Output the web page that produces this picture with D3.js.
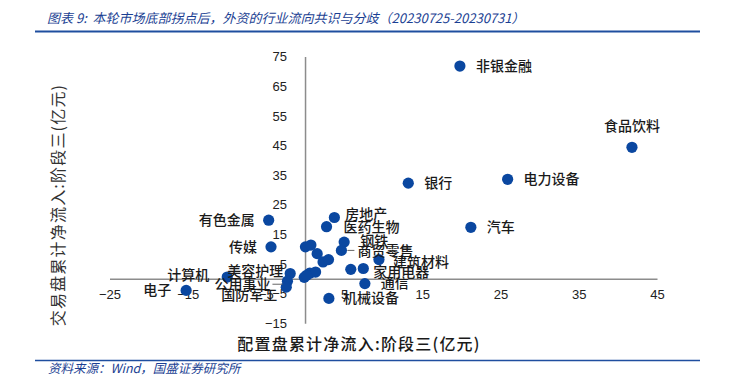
<!DOCTYPE html>
<html>
<head>
<meta charset="utf-8">
<script src="https://cdn.jsdelivr.net/npm/d3@7"></script>
<style>
  html, body { margin: 0; padding: 0; background: #fff; }
  svg { display: block; }
</style>
</head>
<body>
<svg id="chart" width="739" height="380"></svg>
<script>
// ---- Data ----
const industries = ["非银金融","食品饮料","电力设备","银行","汽车","有色金属","传媒","计算机","电子","美容护理",
  "公用事业","国防军工","房地产","医药生物","钢铁","商贸零售","建筑材料","家用电器","通信","机械设备",
  "","","","","","","","","",""];
const allocationFlow = [19.8, 41.8, 25.9, 13.2, 21.2, -4.65, -4.35, -9.95, -15.2, -1.9,
  -2.25, -2.4, 3.75, 2.75, 5.0, 4.65, 9.45, 7.45, 7.65, 3.05,
  5.85, 0.05, 0.75, 1.55, 2.3, 3.0, -0.1, 0.6, 1.35, 0.2];
const tradingFlow = [71.8, 44.4, 33.6, 32.3, 17.4, 19.8, 10.8, 0.6, -3.9, 1.8,
  -0.8, -2.8, 20.7, 17.6, 12.4, 9.6, 6.5, 3.5, -1.6, -6.6,
  3.2, 10.8, 11.4, 8.5, 5.7, 6.5, 0.5, 1.9, 2.3, 1.2];
const xTicks = [-25, -15, -5, 5, 15, 25, 35, 45];
const yTicks = [-15, -5, 5, 15, 25, 35, 45, 55, 65, 75];
const titleText = "图表 9:  本轮市场底部拐点后，外资的行业流向共识与分歧（20230725-20230731）";
const sourceText = "资料来源：Wind，国盛证券研究所";
const xTitle = "配置盘累计净流入:阶段三(亿元)";
const yTitle = "交易盘累计净流入:阶段三(亿元)";

// ---- Label layout (offsets from dot, px) ----
const labelLayout = {
  "非银金融": [16, 0, "start"], "食品饮料": [0, -21, "middle"], "电力设备": [16, 0, "start"],
  "银行": [16, 0, "start"], "汽车": [16, 0, "start"], "有色金属": [-14, 0, "end"],
  "传媒": [-14, 0, "end"], "计算机": [-18, -2, "end"], "电子": [-15, 0, "end"],
  "美容护理": [-7, -3, "end"], "公用事业": [-17, 3, "end"], "国防军工": [-9, 8, "end"],
  "房地产": [11, -4, "start"], "医药生物": [17, 0, "start"], "钢铁": [16, -1, "start"],
  "商贸零售": [16, 1, "start"], "建筑材料": [14, 2, "start"], "家用电器": [10, 3, "start"],
  "通信": [16, -1, "start"], "机械设备": [14, 0, "start"]
};
const leaders = { "商贸零售": [6, 13, 0], "公用事业": [-15, -5, 3] };

const data = industries.map((n, i) => ({ name: n, x: allocationFlow[i], y: tradingFlow[i] }));

const svg = d3.select("#chart");
const blue = "#1b3f93";
const dotColor = "#0a47a0";

const x = d3.scaleLinear().domain([-25, 45]).range([109.5, 657]);
const y = d3.scaleLinear().domain([-15, 75]).range([323.3, 56.6]);

// Title and rules
svg.append("text").attr("x", 47).attr("y", 23)
  .attr("font-family", "'Noto Sans CJK SC', sans-serif").attr("font-size", 13)
  .attr("font-style", "italic").attr("fill", blue).attr("xml:space", "preserve")
  .text(titleText);
svg.append("line").attr("x1", 35).attr("x2", 700).attr("y1", 31.5).attr("y2", 31.5)
  .attr("stroke", "#1f4e9f").attr("stroke-width", 2);
svg.append("line").attr("x1", 35).attr("x2", 700).attr("y1", 360.5).attr("y2", 360.5)
  .attr("stroke", "#1f4e9f").attr("stroke-width", 1.5);
svg.append("text").attr("x", 48).attr("y", 373)
  .attr("font-family", "'Noto Sans CJK SC', sans-serif").attr("font-size", 12.5)
  .attr("font-style", "italic").attr("fill", blue)
  .text(sourceText);

// Axes
const xAxis = d3.axisBottom(x).tickValues(xTicks).tickSize(0).tickSizeOuter(0).tickPadding(11)
  .tickFormat(d => d < 0 ? "\u2212" + Math.abs(d) : d);
const yAxis = d3.axisLeft(y).tickValues(yTicks).tickSize(0).tickSizeOuter(0).tickPadding(18)
  .tickFormat(d => d < 0 ? "\u2212" + Math.abs(d) : d);

const gx = svg.append("g").attr("transform", `translate(0,${y(0)})`).call(xAxis);
const gy = svg.append("g").attr("transform", `translate(${x(0)},0)`).call(yAxis);
[gx, gy].forEach(g => {
  g.select(".domain").attr("stroke", "#8c8c8c").attr("stroke-width", 1.5);
  g.selectAll("text").attr("font-family", "'Liberation Sans', Arial, sans-serif")
    .attr("font-size", 13).attr("fill", "#222");
});

// Dots
svg.append("g").selectAll("circle").data(data).join("circle")
  .attr("cx", d => x(d.x)).attr("cy", d => y(d.y)).attr("r", 5.6)
  .attr("fill", dotColor);

// Leaders
svg.append("g").selectAll("line").data(data.filter(d => leaders[d.name])).join("line")
  .attr("x1", d => x(d.x) + leaders[d.name][0]).attr("x2", d => x(d.x) + leaders[d.name][1])
  .attr("y1", d => y(d.y) + leaders[d.name][2]).attr("y2", d => y(d.y) + leaders[d.name][2])
  .attr("stroke", "#666").attr("stroke-width", 1);

// Labels
svg.append("g").selectAll("text").data(data.filter(d => labelLayout[d.name])).join("text")
  .attr("x", d => x(d.x) + labelLayout[d.name][0])
  .attr("y", d => y(d.y) + labelLayout[d.name][1])
  .attr("dy", "0.36em")
  .attr("text-anchor", d => labelLayout[d.name][2])
  .attr("font-family", "'Noto Sans CJK SC', sans-serif").attr("font-size", 14)
  .attr("font-weight", 500).attr("fill", "#1a1a1a")
  .text(d => d.name);

// Axis titles
svg.append("text").attr("x", 359).attr("y", 344).attr("dy", "0.36em")
  .attr("text-anchor", "middle")
  .attr("font-family", "'Noto Sans CJK SC', sans-serif").attr("font-size", 16)
  .attr("font-weight", 500).attr("letter-spacing", 1.2).attr("fill", "#1a1a1a")
  .text(xTitle);
svg.append("text").attr("transform", "translate(58,205) rotate(-90)").attr("dy", "0.36em")
  .attr("text-anchor", "middle")
  .attr("font-family", "'Noto Sans CJK SC', sans-serif").attr("font-size", 16)
  .attr("letter-spacing", 1.2).attr("fill", "#333")
  .text(yTitle);
</script>
</body>
</html>
